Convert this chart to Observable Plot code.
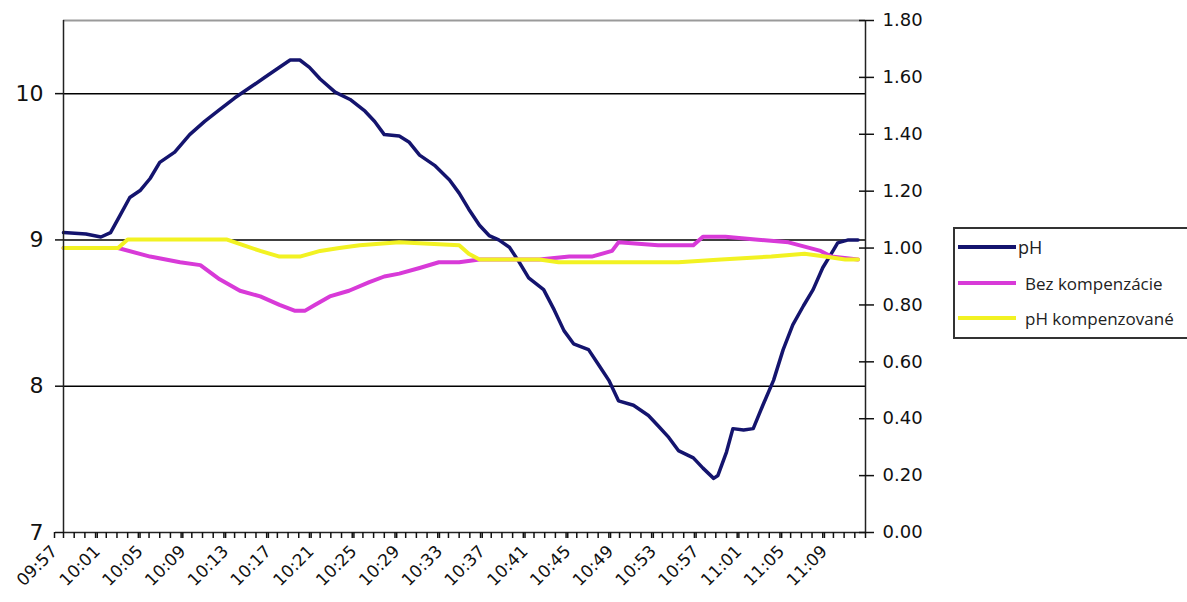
<!DOCTYPE html>
<html>
<head>
<meta charset="utf-8">
<script src="https://cdn.jsdelivr.net/npm/d3@7"></script>
<script src="https://cdn.jsdelivr.net/npm/@observablehq/plot@0.6"></script>
<style>
  body { margin: 0; background: #fff; }
  #wrap { position: relative; width: 1187px; height: 602px; overflow: hidden; background: #fff; }
  #legend { position: absolute; left: 953px; top: 227px; width: 260px; height: 108px;
    border: 2px solid #333; border-right: none; background: #fff; font-family: "Open Sans", sans-serif; color: #222; }
  .item { position: absolute; left: 0; height: 20px; display: flex; align-items: center; }
  .swatch { width: 58px; height: 4px; margin-left: 3px; }
  .lab { margin-left: 9px; font-size: 17px; white-space: nowrap; }
</style>
</head>
<body>
<div id="wrap"><div id="chart"></div><div id="legend"></div></div>
<script>
// X axis: minutes after 09:57
const timeLabels = ["09:57","10:01","10:05","10:09","10:13","10:17","10:21","10:25","10:29","10:33","10:37","10:41","10:45","10:49","10:53","10:57","11:01","11:05","11:09"];
const labelMinutes = [0,4,8,12,16,20,24,28,32,36,40,44,48,52,56,60,64,68,72];

// Left axis (pH)
const leftTicks = [7, 8, 9, 10];
// Right axis
const rightTicks = [0, 0.2, 0.4, 0.6, 0.8, 1.0, 1.2, 1.4, 1.6, 1.8];

// Series names & colours
const seriesNames = ["pH", "Bez kompenzácie", "pH kompenzované"];
const seriesColors = ["#14146e", "#d83ad8", "#f2f222"];

// pH (left axis)
const phMinutes = [0,2.1,3.5,4.4,5.3,6.2,7.2,8.1,9.0,10.4,11.8,13.2,14.6,16.0,17.4,18.8,20.2,21.2,22.1,23.0,24.0,25.4,26.8,28.2,29.1,30.0,31.4,32.3,33.3,34.7,36.1,37.0,37.9,38.9,39.8,40.7,41.7,42.6,43.5,44.9,45.9,46.8,47.7,49.1,50.1,51.0,51.9,53.3,54.7,55.6,56.6,57.5,58.9,59.8,60.8,61.2,62.0,62.6,63.6,64.5,65.4,66.4,67.3,68.2,69.2,70.1,71.0,72.0,72.4,73.4,74.3];
const phValues = [9.05,9.04,9.02,9.05,9.17,9.29,9.34,9.42,9.53,9.60,9.72,9.81,9.89,9.97,10.04,10.11,10.18,10.23,10.23,10.18,10.10,10.01,9.96,9.88,9.81,9.72,9.71,9.67,9.58,9.51,9.41,9.32,9.21,9.10,9.03,9.00,8.95,8.85,8.74,8.66,8.52,8.38,8.29,8.25,8.14,8.04,7.90,7.87,7.80,7.73,7.65,7.56,7.51,7.44,7.37,7.39,7.55,7.71,7.70,7.71,7.87,8.04,8.25,8.42,8.55,8.66,8.81,8.93,8.98,9.00,9.00];

// Bez kompenzácie (right axis)
const pinkMinutes = [0,5.1,8.1,10.9,12.8,14.6,16.5,18.4,20.2,21.6,22.6,23.5,24.9,26.7,28.6,30.0,31.4,33.3,35.1,37.0,38.9,40.7,44.5,47.3,49.4,51.3,51.9,55.6,58.9,59.8,61.9,64.7,67.8,70.8,71.8,74.3];
const pinkValues = [1.00,1.00,0.97,0.95,0.94,0.89,0.85,0.83,0.80,0.78,0.78,0.80,0.83,0.85,0.88,0.90,0.91,0.93,0.95,0.95,0.96,0.96,0.96,0.97,0.97,0.99,1.02,1.01,1.01,1.04,1.04,1.03,1.02,0.99,0.97,0.96];

// pH kompenzované (right axis)
const yellowMinutes = [0,5.1,6.0,9.0,15.3,16.8,18.4,20.2,22.1,24.0,25.8,27.7,31.4,37.0,37.9,38.9,44.5,46.3,50.0,55.6,57.5,61.5,66.2,69.3,71.2,73.1,74.3];
const yellowValues = [1.00,1.00,1.03,1.03,1.03,1.01,0.99,0.97,0.97,0.99,1.00,1.01,1.02,1.01,0.98,0.96,0.96,0.95,0.95,0.95,0.95,0.96,0.97,0.98,0.97,0.96,0.96];

// Scale relation between right axis and left axis
const leftDomain = [7, 10.5];
const rightDomain = [0, 1.8];
const toLeft = r => leftDomain[0] + (r - rightDomain[0]) * (leftDomain[1] - leftDomain[0]) / (rightDomain[1] - rightDomain[0]);
const toRight = v => rightDomain[0] + (v - leftDomain[0]) * (rightDomain[1] - rightDomain[0]) / (leftDomain[1] - leftDomain[0]);

const phData = phMinutes.map((m, i) => ({m, v: phValues[i]}));
const pinkData = pinkMinutes.map((m, i) => ({m, v: toLeft(pinkValues[i])}));
const yellowData = yellowMinutes.map((m, i) => ({m, v: toLeft(yellowValues[i])}));

const chart = Plot.plot({
  width: 1187, height: 602,
  marginLeft: 63, marginRight: 322, marginTop: 20, marginBottom: 70,
  x: {domain: [0, 75], label: null},
  y: {domain: leftDomain, label: null},
  style: {fontFamily: "DejaVu Sans", background: "white", color: "#111", overflow: "visible"},
  marks: [
    Plot.ruleY([8, 9, 10], {stroke: "#000", strokeWidth: 1.5}),
    Plot.ruleY([leftDomain[1]], {stroke: "#9a9a9a", strokeWidth: 2}),
    Plot.line(phData, {x: "m", y: "v", stroke: seriesColors[0], strokeWidth: 3.5, curve: "linear"}),
    Plot.line(pinkData, {x: "m", y: "v", stroke: seriesColors[1], strokeWidth: 4}),
    Plot.line(yellowData, {x: "m", y: "v", stroke: seriesColors[2], strokeWidth: 4}),
    Plot.ruleX([0, 75], {stroke: "#222", strokeWidth: 1.5}),
    Plot.ruleY([leftDomain[0]], {stroke: "#222", strokeWidth: 1.5}),
    Plot.axisX(d3.range(0, 76), {tickSize: 6, tickFormat: () => "", label: null, strokeWidth: 1.5}),
    Plot.axisX(labelMinutes, {tickSize: 6, tickRotate: -45, tickPadding: 10, dx: -9, fontSize: 17,
      tickFormat: d => timeLabels[labelMinutes.indexOf(d)], label: null, strokeWidth: 1.5}),
    Plot.axisY(leftTicks, {anchor: "left", tickSize: 8, tickPadding: 12, fontSize: 22, label: null,
      tickFormat: d => String(d), strokeWidth: 1.5}),
    Plot.axisY(rightTicks.map(toLeft), {anchor: "right", tickSize: 15, inset: 7, tickPadding: 9, fontSize: 18,
      label: null, tickFormat: d => toRight(d).toFixed(2), strokeWidth: 1.5})
  ]
});
document.getElementById("chart").appendChild(chart);

// Legend
const legend = document.getElementById("legend");
const tops = [8, 44, 79];
seriesNames.forEach((name, i) => {
  const it = document.createElement("div");
  it.className = "item";
  it.style.top = tops[i] + "px";
  it.innerHTML = `<div class="swatch" style="background:${seriesColors[i]}"></div><div class="lab" style="${i === 0 ? 'font-size:18px;margin-left:2px' : ''}">${name}</div>`;
  legend.appendChild(it);
});
</script>
</body>
</html>
